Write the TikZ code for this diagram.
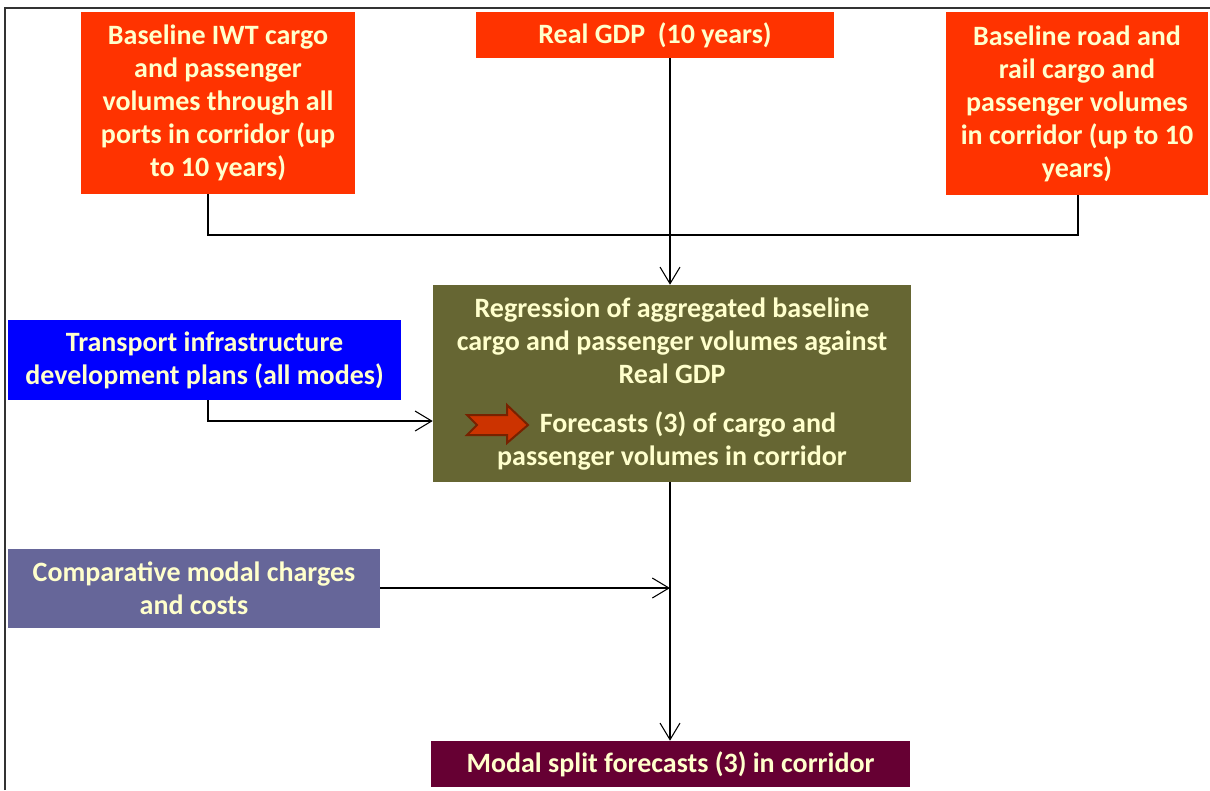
\documentclass[tikz,border=0pt]{standalone}
\usepackage{fontspec}
\setmainfont{Carlito}
\usepackage{tikz}
\usetikzlibrary{positioning, calc, arrows.meta}

\definecolor{boxRed}{HTML}{FF3300}
\definecolor{boxOlive}{HTML}{666633}
\definecolor{boxBlue}{HTML}{0000FF}
\definecolor{boxSlate}{HTML}{666699}
\definecolor{boxMaroon}{HTML}{660033}
\definecolor{boxText}{HTML}{FFFFCC}
\definecolor{arrRed}{HTML}{CC3300}
\definecolor{arrEdge}{HTML}{772200}

\tikzset{
  box/.style={inner sep=0pt, align=center, text=boxText,
    font=\fontsize{21}{24.75}\selectfont\bfseries},
  link/.style={line width=0.8pt, draw=black},
  pre/.style={link, -{Straight Barb[length=12.5pt,width=15pt,line width=0.8pt]}}
}

\begin{document}
\begin{tikzpicture}[x=0.75pt, y=-0.75pt]

      \useasboundingbox (0,0) rectangle (1210,790);

      % FRAME

      \draw[line width=1pt, black!80] (5,790) -- (5,8) -- (1210,8);

      % BOXES

      \node[box, fill=boxRed, minimum width=205.5pt, minimum height=136.5pt] (iwt) at (218,103)
        {Baseline IWT cargo\\ and passenger\\ volumes through all\\ ports in corridor (up\\ to 10 years)};
      \node[box, fill=boxRed, minimum width=268.5pt, minimum height=34.5pt] (gdp) at (655,35)
        {Real GDP\ \ (10 years)};
      \node[box, fill=boxRed, minimum width=196.5pt, minimum height=137.25pt] (road) at (1077,103.5)
        {Baseline road and\\ rail cargo and\\ passenger volumes\\ in corridor (up to 10\\ years)};

      \node[box, fill=boxOlive, minimum width=358.5pt, minimum height=147.75pt] (reg) at (672,383.5) {};
      \node[box] (regText) at (672,341)
        {Regression of aggregated baseline\\ cargo and passenger volumes against\\ Real GDP};
      \node[box] (fcText) at (672,441)
        {\hspace*{24pt}Forecasts (3) of cargo and\\ passenger volumes in corridor};

      \node[box, fill=boxBlue, minimum width=294.75pt, minimum height=60pt] (plans) at (204.5,360)
        {Transport infrastructure\\ development plans (all modes)};
      \node[box, fill=boxSlate, minimum width=279pt, minimum height=59.25pt] (costs) at (194,588.5)
        {Comparative modal charges\\ and costs};
      \node[box, fill=boxMaroon, minimum width=359.25pt, minimum height=34.5pt] (split) at (670.5,764)
        {Modal split forecasts (3) in corridor};

      % BLOCK ARROW

      \coordinate (ba) at (467,425);
      \draw[line width=1.5pt, draw=arrEdge, fill=arrRed, line join=miter]
        ($(ba)+(0,-10)$) -- ($(ba)+(40,-10)$) -- ($(ba)+(40,-20)$) -- ($(ba)+(61,0)$)
        -- ($(ba)+(40,18)$) -- ($(ba)+(40,10)$) -- ($(ba)+(0,10)$) -- ($(ba)+(10,0)$) -- cycle;

      % JOINTS

      \coordinate (jIwt) at (208,235);
      \coordinate (jRoad) at (1078,235);
      \coordinate (jPlans) at (208,421);
      \coordinate (spine) at (670,588);

      % ARCS

      \draw[link] (iwt.south -| jIwt) -- (jIwt) -- (jRoad) -- (road.south -| jRoad);
      \draw[pre] (gdp.south -| spine) -- (reg.north -| spine);
      \draw[pre] (plans.south -| jPlans) -- (jPlans) -- (reg.west |- jPlans);
      \draw[pre] (costs.east |- spine) -- (spine);
      \draw[pre] (reg.south -| spine) -- (split.north -| spine);

    \end{tikzpicture}
\end{document}
